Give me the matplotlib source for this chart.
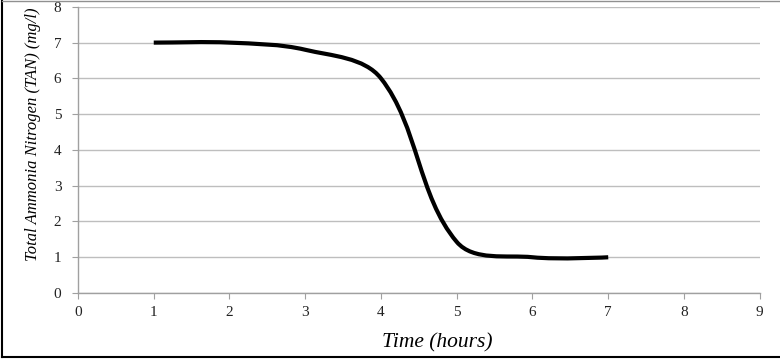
import numpy as np
import matplotlib
matplotlib.use("Agg")
import matplotlib.pyplot as plt
from matplotlib.path import Path
from matplotlib.patches import PathPatch
from matplotlib.lines import Line2D

# Data
time_hours = [1, 2, 3, 4, 5, 6, 7]
tan_mg_l = [7.0, 7.0, 6.8, 6.0, 1.43, 1.0, 1.0]
x_ticks = [0, 1, 2, 3, 4, 5, 6, 7, 8, 9]
y_ticks = [0, 1, 2, 3, 4, 5, 6, 7, 8]

fig = plt.figure(figsize=(7.8, 3.6), dpi=100)
ax = fig.add_axes([0.1, 0.186, 0.874, 0.795])
ax.set_xlim(0, 9)
ax.set_ylim(0, 8)

serif = "Liberation Serif"

# Smoothed line (Excel-like Bezier smoothing computed in display space)
ax.figure.canvas.draw()
pts = ax.transData.transform(np.column_stack([time_hours, tan_mg_l]))
n = len(pts)
verts = [pts[0]]
codes = [Path.MOVETO]
def tangent(i):
    if i == 0:
        d = pts[1] - pts[0]
    elif i == n - 1:
        d = pts[-1] - pts[-2]
    else:
        d = pts[i + 1] - pts[i - 1]
    return d / np.linalg.norm(d)
for i in range(n - 1):
    seg = np.linalg.norm(pts[i + 1] - pts[i]) / 3.0
    c1 = pts[i] + tangent(i) * seg if i > 0 else pts[i] + (pts[i+1]-pts[i]) / 3.0
    if i + 1 == n - 1:
        c2 = pts[i + 1]
    else:
        c2 = pts[i + 1] - tangent(i + 1) * seg
    verts += [c1, c2, pts[i + 1]]
    codes += [Path.CURVE4] * 3
verts = ax.transData.inverted().transform(np.array(verts))
path = Path(verts, codes)
ax.add_patch(PathPatch(path, facecolor="none", edgecolor="black", lw=3.0,
                       capstyle="butt", joinstyle="round", zorder=3))

ax.set_xticks(x_ticks)
ax.set_yticks(y_ticks)
ax.grid(axis="y", color="#BEBEBE", lw=1.0)
ax.set_axisbelow(True)
for s in ["top", "right"]:
    ax.spines[s].set_visible(False)
for s in ["left", "bottom"]:
    ax.spines[s].set_color("#A0A0A0")
    ax.spines[s].set_linewidth(1.0)
ax.tick_params(axis="both", direction="out", length=4, color="#A0A0A0",
               labelsize=11, labelcolor="#222222")
ax.tick_params(axis="x", pad=5)
ax.tick_params(axis="y", pad=8)
for lab in ax.get_xticklabels() + ax.get_yticklabels():
    lab.set_fontfamily(serif)

ax.set_xlabel("Time (hours)", fontfamily=serif, fontstyle="italic", fontsize=15.5)
ax.xaxis.set_label_coords(0.527, -0.14)
ax.set_ylabel("Total Ammonia Nitrogen (TAN) (mg/l)", fontfamily=serif,
              fontstyle="italic", fontsize=12)
ax.yaxis.set_label_coords(-0.055, 0.555)

# Figure frame
fig.add_artist(Line2D([0.003, 0.003], [0.008, 0.997], transform=fig.transFigure,
                      color="black", lw=1.5))
fig.add_artist(Line2D([0.003, 1.0], [0.008, 0.008], transform=fig.transFigure,
                      color="black", lw=1.5))
fig.add_artist(Line2D([0.003, 1.0], [0.997, 0.997], transform=fig.transFigure,
                      color="#909090", lw=1.0))

fig.savefig("out.png", dpi=100)
